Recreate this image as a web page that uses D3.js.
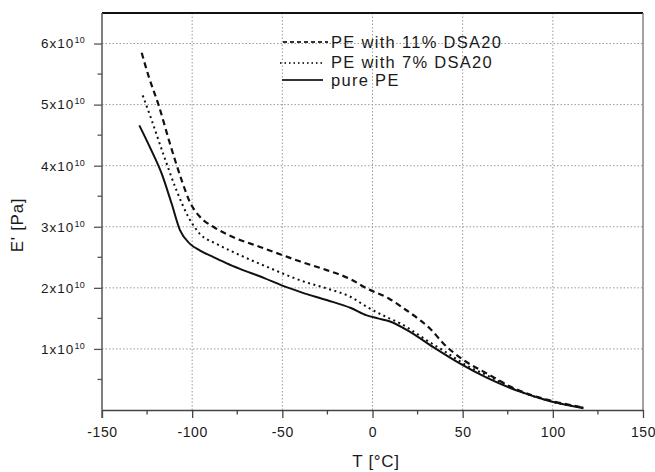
<!DOCTYPE html>
<html>
<head>
<meta charset="utf-8">
<script src="https://cdn.jsdelivr.net/npm/d3@7"></script>
<style>
html,body{margin:0;padding:0;background:#fff;}
svg{display:block;font-family:"Liberation Sans",Arial,sans-serif;}
</style>
</head>
<body>
<svg id="chart" width="655" height="472"></svg>
<script>
// ---- data (T in °C, E' in units of 1e10 Pa) ----
const seriesNames = ["PE with 11% DSA20", "PE with 7% DSA20", "pure PE"];
const pe11T = [-128,-124,-118.8,-112.3,-105.8,-101.2,-95.6,-88.3,-77.2,-62.4,-49.4,-40,-25.4,-12,-3.2,8.8,18,26.4,32,39.3,50.4,63.3,78.1,96.6,110,117];
const pe11E = [5.85,5.45,5.01,4.36,3.76,3.40,3.16,3.00,2.83,2.67,2.53,2.43,2.29,2.14,1.99,1.83,1.65,1.47,1.33,1.09,0.82,0.60,0.36,0.17,0.08,0.04];
const pe7T = [-127.4,-122.4,-116,-108.6,-102.1,-95.6,-86.4,-71.6,-55,-49.4,-39.8,-25.4,-12,-3.2,7.9,15.3,22,30.1,40,52.2,63.3,78.1,96.6,110,117];
const pe7E = [5.15,4.74,4.19,3.59,3.16,2.88,2.72,2.51,2.30,2.23,2.12,1.99,1.85,1.69,1.52,1.42,1.30,1.14,0.96,0.73,0.57,0.35,0.16,0.07,0.04];
const pureT = [-129.3,-123.4,-116.9,-111.4,-106.7,-101.2,-95.6,-88,-80.8,-73.5,-60,-50.3,-39.8,-25.4,-12,-3.2,3,9.7,20.8,33.7,48.6,63.3,81.8,96.6,110,117];
const pureE = [4.66,4.30,3.87,3.38,2.94,2.72,2.61,2.50,2.40,2.31,2.16,2.04,1.93,1.80,1.67,1.55,1.50,1.45,1.28,1.03,0.76,0.53,0.30,0.16,0.07,0.03];
const xTicks = [-150,-100,-50,0,50,100,150];
const xMinorTicks = [-125,-75,-25,25,75,125];
const yTicks = [1,2,3,4,5,6];
const yMinorTicks = [0.5,1.5,2.5,3.5,4.5,5.5];
const xTitle = "T [°C]";
const yTitle = "E' [Pa]";

const svg = d3.select("#chart");
const x = d3.scaleLinear().domain([-150,150]).range([102,643]);
const y = d3.scaleLinear().domain([0,6.5]).range([410,13]);
const txt = "#1a1a1a";

// grid
const grid = svg.append("g");
grid.selectAll("line.gx").data(xTicks.slice(1,-1)).join("line")
  .attr("x1",d=>x(d)).attr("x2",d=>x(d)).attr("y1",y(0)).attr("y2",y(6.5))
  .attr("stroke","#9a9a9a").attr("stroke-width",1).attr("stroke-dasharray","1.5,2");
grid.selectAll("line.gy").data(yTicks).join("line")
  .attr("x1",x(-150)).attr("x2",x(150)).attr("y1",d=>y(d)).attr("y2",d=>y(d))
  .attr("stroke","#9a9a9a").attr("stroke-width",1).attr("stroke-dasharray","1.5,2");

// borders
svg.append("line").attr("x1",x(-150)).attr("x2",x(150)).attr("y1",y(6.5)).attr("y2",y(6.5))
  .attr("stroke","#111").attr("stroke-width",2);
svg.append("line").attr("x1",x(150)).attr("x2",x(150)).attr("y1",y(6.5)).attr("y2",y(0))
  .attr("stroke","#666").attr("stroke-width",1.2);

// x axis
const gx = svg.append("g").attr("transform",`translate(0,${y(0)})`);
gx.call(d3.axisBottom(x).tickValues(xTicks).tickSize(8).tickPadding(9).tickSizeOuter(0).tickFormat(d=>String(d)));
gx.call(g=>{
  g.select(".domain").attr("stroke","#444").attr("stroke-width",1.5);
  g.selectAll(".tick line").attr("stroke","#444").attr("stroke-width",1.3);
  g.selectAll(".tick text").attr("font-size","14px").attr("fill",txt).style("letter-spacing","0.6px");
});
gx.selectAll("line.minor").data(xMinorTicks).join("line").attr("class","minor")
  .attr("x1",d=>x(d)).attr("x2",d=>x(d)).attr("y1",0).attr("y2",4.5)
  .attr("stroke","#444").attr("stroke-width",1.3);

// y axis
const gy = svg.append("g").attr("transform",`translate(${x(-150)},0)`);
gy.call(d3.axisLeft(y).tickValues(yTicks).tickSize(8).tickPadding(9).tickSizeOuter(0).tickFormat(()=>""));
gy.call(g=>{
  g.select(".domain").attr("stroke","#555").attr("stroke-width",1.5).attr("d",`M0,${y(6.5)}V${y(0)+8}`);
  g.selectAll(".tick line").attr("stroke","#555").attr("stroke-width",1.3);
  g.selectAll(".tick text").attr("font-size","13.5px").attr("fill",txt).style("letter-spacing","1px")
    .each(function(d){
      const t=d3.select(this);
      t.append("tspan").text(d+"x10");
      t.append("tspan").attr("dy","-5").attr("font-size","9px").style("letter-spacing","0.3px").text("10");
    });
});
gy.selectAll("line.minor").data(yMinorTicks).join("line").attr("class","minor")
  .attr("x1",-4.5).attr("x2",0).attr("y1",d=>y(d)).attr("y2",d=>y(d))
  .attr("stroke","#555").attr("stroke-width",1.3);

// titles
svg.append("text").attr("x",376).attr("y",467).attr("text-anchor","middle")
  .attr("font-size","17px").attr("fill",txt).style("letter-spacing","0.7px").text(xTitle);
svg.append("text").attr("transform","translate(23,225) rotate(-90)").attr("text-anchor","middle")
  .attr("font-size","17px").attr("fill",txt).style("letter-spacing","0.7px").text(yTitle);

// curves
const line = d3.line().x(d=>x(d[0])).y(d=>y(d[1])).curve(d3.curveMonotoneX);
const series = [
  {name:seriesNames[0], data:d3.zip(pe11T,pe11E), dash:"6,4", w:2.2},
  {name:seriesNames[1], data:d3.zip(pe7T,pe7E), dash:"2,3.5", w:2},
  {name:seriesNames[2], data:d3.zip(pureT,pureE), dash:null, w:2}
];
svg.append("g").selectAll("path").data(series).join("path")
  .attr("d",d=>line(d.data)).attr("fill","none").attr("stroke","#111")
  .attr("stroke-width",d=>d.w).attr("stroke-dasharray",d=>d.dash);

// legend
const leg = [
  {s:series[0], x1:283, x2:328, ly:42, ty:48},
  {s:series[1], x1:280, x2:325, ly:63, ty:68},
  {s:series[2], x1:282, x2:323, ly:80, ty:86}
];
const lg = svg.append("g");
lg.selectAll("line").data(leg).join("line")
  .attr("x1",d=>d.x1).attr("x2",d=>d.x2).attr("y1",d=>d.ly).attr("y2",d=>d.ly)
  .attr("stroke","#333").attr("stroke-width",d=>d.s.dash?1.8:2.2).attr("stroke-dasharray",d=>d.s.dash==="6,4"?"4,3":(d.s.dash?"1.5,3":null));
lg.selectAll("text").data(leg).join("text")
  .attr("x",331).attr("y",d=>d.ty).attr("font-size","16.5px").attr("fill",txt)
  .style("letter-spacing","1.3px").text(d=>d.s.name);
</script>
</body>
</html>
